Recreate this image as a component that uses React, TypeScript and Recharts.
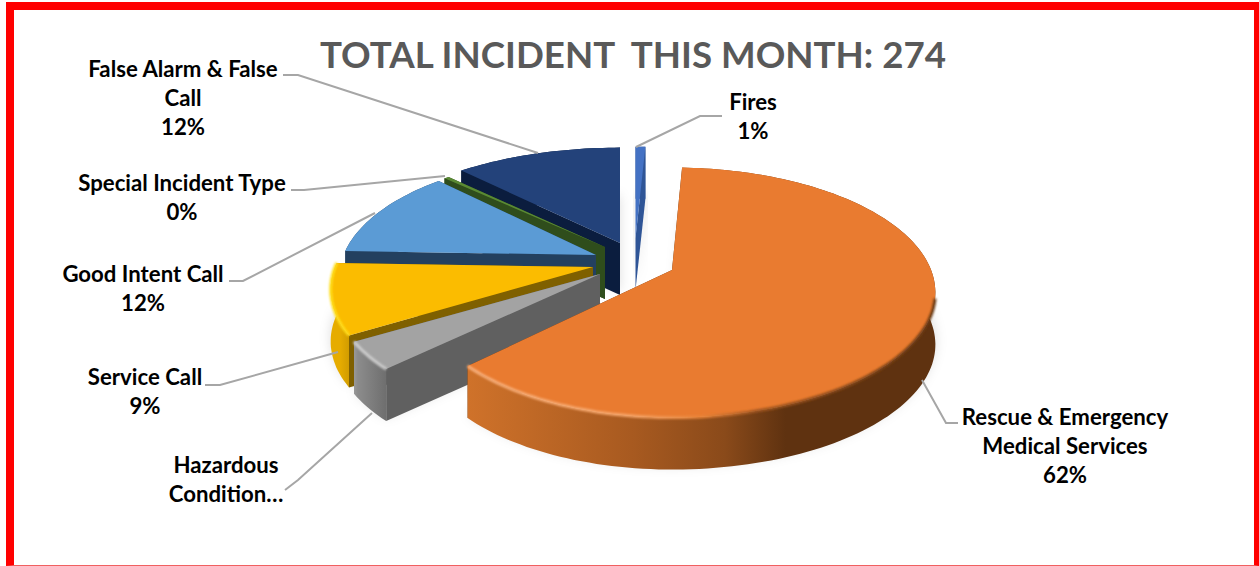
import React from "react";
import { PieChart, Pie } from "recharts";

// Listed back-to-front (counter-clockwise from twelve o'clock) so that the pie paints like the 3D original.
const categories = ["Fires", "False Alarm & False Call", "Special Incident Type", "Good Intent Call", "Service Call", "Hazardous Condition", "Rescue & Emergency Medical Services"];
const incidents = [2, 33, 1, 33, 25, 10, 170];
const labelLines = [["Fires"], ["False Alarm & False", "Call"], ["Special Incident Type"], ["Good Intent Call"], ["Service Call"], ["Hazardous", "Condition…"], ["Rescue & Emergency", "Medical Services"]];
const showPercent = [true, true, true, true, true, false, true];
const titleText = "TOTAL INCIDENT  THIS MONTH: 274";

const total = incidents.reduce((a, b) => a + b, 0);
const tableData = categories.map((name, i) => ({ name, value: incidents[i] }));

// Layout and style
const CX = 620, CY = 250, RADIUS = 255, FLAT = 0.4745, PERSP = 0.18, DEPTH = 52;
const FONT = "Lato, 'Open Sans', sans-serif";
type Look = { dx: number; dy: number; ys: number; xl: number; xr: number; top: string; cut: string; side: [number, string][]; rim?: [number, string][] };
const looks: Look[] = [
  { dx: 15.5, dy: -12, ys: 0.89, xl: 1, xr: 1, top: "#4472C4", cut: "#2F5597", side: [[0, "#2F5597"], [1, "#2F5597"]] },
  { dx: 0, dy: -7, ys: 0.93, xl: 1.025, xr: 1, top: "#23427A", cut: "#0B1D3E", side: [[0, "#0B1D3E"], [1, "#0B1D3E"]] },
  { dx: -15, dy: -3, ys: 0.9, xl: 1.01, xr: 1, top: "#5A8A34", cut: "#2F4D1C", side: [[0, "#2F4D1C"], [1, "#2F4D1C"]] },
  { dx: -24, dy: 5, ys: 0.97, xl: 0.99, xr: 1, top: "#5B9BD5", cut: "#23405F", side: [[0, "#23405F"], [1, "#23405F"]] },
  { dx: -27, dy: 17, ys: 1, xl: 1.012, xr: 1, top: "#FBBC00", cut: "#7F6000", side: [[0, "#E6AC00"], [0.2, "#DDA500"], [1, "#B98A00"]], rim: [[0, "#FFDF20"], [1, "#FFD000"]] },
  { dx: -20, dy: 24, ys: 0.99, xl: 1.02, xr: 1, top: "#A3A3A3", cut: "#606060", side: [[0, "#A0A0A0"], [0.12, "#8C8C8C"], [1, "#606060"]], rim: [[0, "#D4D4D4"], [1, "#C8C8C8"]] },
  { dx: 52, dy: 20, ys: 1, xl: 0.975, xr: 1.016, top: "#E97B30", cut: "#5F3210", side: [[0, "#CF722A"], [0.35, "#A85A20"], [0.55, "#8A4A1A"], [0.68, "#5F3210"], [1, "#5F3210"]], rim: [[0, "#F8B07C"], [0.35, "#F5A468"], [0.5, "#E98438"], [0.62, "#A05520"], [1, "#6B3A14"]] },
];
const SPAN_X1 = 340, SPAN_X2 = 935;
const looksGradient = (i: number) => (i === 6 ? [468, SPAN_X2] : i === 5 ? [352, 400] : [SPAN_X1, 360]);

const textBoxes = [
  { x: 753, y: 102 }, { x: 183, y: 69 }, { x: 182, y: 183 }, { x: 143, y: 274 },
  { x: 145, y: 377 }, { x: 226, y: 465 }, { x: 1065, y: 417 },
];
const leaders = [
  "636,147 700,116 722,116",
  "283,75 298,75 538,153",
  "291,190 304,190 445,176",
  "229,281 243,281 375,213",
  "205,385 220,385 338,352",
  "285,490 298,480 372,413",
  "922,380 946,423 958,423",
];

function SliceShape(props: any) {
  const { cx, cy, outerRadius, startAngle, endAngle, index } = props;
  const look = looks[index];
  const tx = cx + look.dx, ty = cy + look.dy;
  const project = (deg: number): [number, number] => {
    const a = (deg * Math.PI) / 180;
    const u = Math.cos(a), v = -Math.sin(a);
    const s = 1 / (1 - PERSP * v);
    const k = u > 0 ? look.xr : look.xl;
    return [tx + outerRadius * k * u * s, ty + outerRadius * FLAT * look.ys * v * s];
  };
  const lo = Math.min(startAngle, endAngle), hi = Math.max(startAngle, endAngle);
  const n = Math.max(2, Math.ceil((hi - lo) / 1.5));
  const arc: [number, number][] = [];
  for (let i = 0; i <= n; i++) arc.push(project(lo + ((hi - lo) * i) / n));
  const str = (pts: [number, number][]) => pts.map((p) => `${p[0].toFixed(1)},${p[1].toFixed(1)}`).join(" ");
  const down = (pts: [number, number][], d: number) => pts.map((p) => [p[0], p[1] + d] as [number, number]);
  const topFace = [[tx, ty] as [number, number], ...arc];
  const tip: [number, number] = [tx, ty];
  const first = arc[0], last = arc[arc.length - 1];
  const sideId = `side-${index}`, rimId = `rim-${index}`, blurId = `blur-${index}`, softId = `soft-${index}`;
  const [gx1, gx2] = looksGradient(index);
  const stops = (list: [number, string][]) => list.map(([o, c]) => <stop key={o} offset={o} stopColor={c} />);
  const frontRim = arc.filter((p) => (index === 6 ? p[1] > ty + 28 : p[1] > ty - 30));
  return (
    <g>
      <defs>
        <linearGradient id={sideId} gradientUnits="userSpaceOnUse" x1={gx1} x2={gx2} y1={0} y2={0}>{stops(look.side)}</linearGradient>
        {look.rim && <linearGradient id={rimId} gradientUnits="userSpaceOnUse" x1={index === 6 ? 468 : 330} x2={index === 6 ? 935 : 400} y1={0} y2={0}>{stops(look.rim)}</linearGradient>}
        <filter id={blurId} x="-20%" y="-20%" width="140%" height="140%"><feGaussianBlur stdDeviation={6} /></filter>
        <filter id={softId} filterUnits="userSpaceOnUse" x={0} y={0} width={1259} height={566}><feGaussianBlur stdDeviation={0.9} /></filter>
      </defs>
      <polygon points={str(down(topFace, DEPTH - 4))} fill="#000" fillOpacity={0.13} filter={`url(#${blurId})`} />
      <polygon points={str([tip, first, [first[0], first[1] + DEPTH], [tx, ty + DEPTH]])} fill={look.cut} />
      <polygon points={str([tip, last, [last[0], last[1] + DEPTH], [tx, ty + DEPTH]])} fill={look.cut} />
      <polygon points={str([...arc, ...down(arc, DEPTH).reverse()])} fill={`url(#${sideId})`} />
      <polygon points={str(topFace)} fill={look.top} />
      {look.rim && frontRim.length > 1 && (
        <polyline points={str(frontRim)} fill="none" stroke={`url(#${rimId})`} strokeWidth={3} filter={`url(#${softId})`} />
      )}
    </g>
  );
}

function renderLeader(props: any) {
  return <polyline points={leaders[props.index]} fill="none" stroke="#A6A6A6" strokeWidth={2} />;
}

function renderLabel(props: any) {
  const i = props.index;
  const box = textBoxes[i];
  const rows = [...labelLines[i]];
  if (showPercent[i]) rows.push(`${Math.round((incidents[i] / total) * 100)}%`);
  return (
    <text textAnchor="middle" fontFamily={FONT} fontWeight={700} fontSize={22.2} fill="#000">
      {rows.map((row, k) => (
        <tspan key={k} x={box.x} y={box.y + k * 29} dy={7.5}>{row}</tspan>
      ))}
    </text>
  );
}

export default function App() {
  return (
    <div style={{ position: "absolute", left: 0, top: 0, width: 1259, height: 566, overflow: "hidden", background: "#fff" }}>
      <div style={{ position: "absolute", left: 6, top: 2, width: 1253, height: 564, boxSizing: "border-box", borderLeft: "8px solid #f00", borderTop: "8px solid #f00", borderRight: "5px solid #f00", borderBottom: "1px solid #f06060" }} />
      <div style={{ position: "absolute", left: 0, top: 0 }}>
        <PieChart width={1259} height={566} margin={{ top: 0, right: 0, bottom: 0, left: 0 }}>
          <text x={633} y={68} textAnchor="middle" fontFamily={FONT} fontWeight={700} fontSize={36.7} fill="#595959" style={{ whiteSpace: "pre" }}>{titleText}</text>
          <Pie
            data={tableData}
            dataKey="value"
            nameKey="name"
            cx={CX}
            cy={CY}
            innerRadius={0}
            outerRadius={RADIUS}
            startAngle={87.37}
            endAngle={447.37}
            stroke="none"
            isAnimationActive={false}
            shape={SliceShape}
            label={renderLabel}
            labelLine={renderLeader}
          />
        </PieChart>
      </div>
    </div>
  );
}
